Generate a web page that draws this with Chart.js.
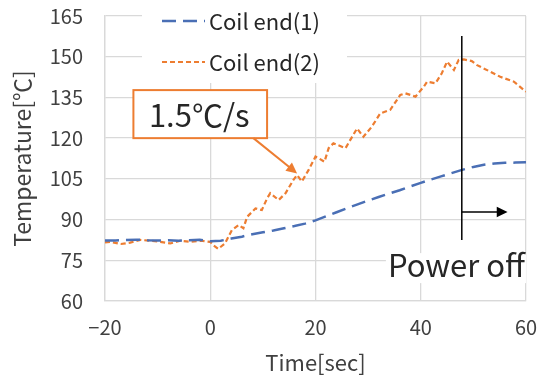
<!DOCTYPE html>
<html>
<head>
<meta charset="utf-8">
<script src="https://cdn.jsdelivr.net/npm/chart.js@4/dist/chart.umd.min.js"></script>
<style>
  html, body { margin: 0; padding: 0; background: #fff; }
  #wrap { width: 539px; height: 380px; }
</style>
</head>
<body>
<div id="wrap"><canvas id="chart"></canvas></div>
<script>
// Coil end temperatures around the power-off point
const coil1Time = [-20, -18, -16, -14, -12, -10, -8, -6, -4, -2, 0, 2, 4, 6, 8, 10, 12, 14, 16, 18, 20,
    22, 24, 26, 28, 30, 32, 34, 36, 38, 40, 42, 44, 46, 48, 50, 52, 54, 56, 58, 60];
const coil1Temp = [82.3, 82.3, 82.5, 82.6, 82.4, 82.3, 82.4, 82.2, 82.4, 82.6, 82.0, 82.2, 83.0, 83.7, 84.6, 85.3, 86.0, 86.8, 87.6, 88.5, 89.7,
    91.2, 92.7, 94.2, 95.6, 97.0, 98.3, 99.6, 100.8, 102.2, 103.5, 104.8, 106.0, 107.2, 108.4, 109.4, 110.2, 110.7, 110.9, 111.0, 111.1];

const coil2Time = [-20, -19, -17, -15.2, -13.3, -11.4, -9.5, -7.6, -5.7, -3.8, -1.9, 0, 0.6, 1.5, 2.8, 4.1, 5.4, 6.3, 7, 8.6, 9.8,
    10.8, 11.4, 13, 14.3, 15.8, 16.5, 17.4, 18.7, 20, 20.5, 21.7, 22.5, 23.4, 25.7, 27.9, 29.1, 30.7, 32.3, 34.2,
    36.1, 37.1, 39, 40.6, 41.2, 42.8, 44, 45, 46.3, 47.2, 48.2, 49.7, 50.7, 53.2, 55.1, 57.7, 60];
const coil2Temp = [81.6, 81.8, 81.0, 81.5, 82.5, 82.2, 81.8, 81.2, 82.2, 81.8, 82.2, 81.8, 80.5, 79.2, 81.2, 86.1, 88.0, 86.8, 91.0, 94.1, 93.5,
    97.8, 99.7, 97.2, 99.7, 104.6, 106.4, 104.0, 108.3, 113.2, 112.7, 111.3, 116.3, 118.1, 116.3, 123.6, 120.5, 124.2, 129.1, 130.4,
    135.9, 136.5, 135.3, 139.0, 140.8, 140.2, 143.9, 148.2, 145.1, 148.8, 149.0, 148.4, 146.9, 144.5, 142.6, 140.8, 137.1];

const seriesNames = ['Coil end(1)', 'Coil end(2)'];
const xTicks = [-20, 0, 20, 40, 60];
const yTicks = [60, 75, 90, 105, 120, 135, 150, 165];

// annotations
const rateLabel = '1.5℃/s';
const powerOffLabel = 'Power off';
const powerOffTime = 47.8;

const FONT = '"Noto Sans CJK JP", "Noto Sans", sans-serif';
const BLUE = '#4a6fb5';
const ORANGE = '#ed7d31';

function toPoints(xs, ys) {
    return xs.map((x, i) => ({ x: x, y: ys[i] }));
}

function arrowHead(ctx, x1, y1, x2, y2, size) {
    const a = Math.atan2(y2 - y1, x2 - x1);
    ctx.beginPath();
    ctx.moveTo(x2, y2);
    ctx.lineTo(x2 - size * Math.cos(a - 0.45), y2 - size * Math.sin(a - 0.45));
    ctx.lineTo(x2 - size * Math.cos(a + 0.45), y2 - size * Math.sin(a + 0.45));
    ctx.closePath();
    ctx.fill();
}

// legend drawn inside the plot, over a white patch that hides the grid
const insideLegend = {
    id: 'insideLegend',
    beforeDatasetsDraw(chart) {
        const ctx = chart.ctx;
        const ds = chart.data.datasets;
        ctx.save();
        ctx.fillStyle = '#fff';
        ctx.fillRect(142, 0, 205, 83);
        const rows = [21, 62];
        ds.forEach((d, i) => {
            ctx.strokeStyle = d.borderColor;
            ctx.lineWidth = d.borderWidth;
            ctx.setLineDash(d.borderDash);
            ctx.beginPath();
            ctx.moveTo(162, rows[i]);
            ctx.lineTo(205, rows[i]);
            ctx.stroke();
            ctx.setLineDash([]);
            ctx.fillStyle = '#262626';
            ctx.font = '22px ' + FONT;
            ctx.textAlign = 'left';
            ctx.textBaseline = 'middle';
            ctx.fillText(d.label, 209, rows[i] + 1);
        });
        ctx.restore();
    }
};

const notes = {
    id: 'notes',
    afterDatasetsDraw(chart) {
        const ctx = chart.ctx;
        const xs = chart.scales.x, ys = chart.scales.y;
        ctx.save();

        // rate callout
        const bx1 = xs.getPixelForValue(-14.6), bx2 = xs.getPixelForValue(10.8);
        const by1 = ys.getPixelForValue(137.7), by2 = ys.getPixelForValue(120);
        ctx.fillStyle = '#fff';
        ctx.fillRect(bx1, by1, bx2 - bx1, by2 - by1);
        ctx.strokeStyle = ORANGE;
        ctx.lineWidth = 2;
        ctx.strokeRect(bx1, by1, bx2 - bx1, by2 - by1);
        ctx.fillStyle = '#262626';
        ctx.font = '31px ' + FONT;
        ctx.textAlign = 'center';
        ctx.textBaseline = 'middle';
        ctx.fillText(rateLabel, (bx1 + bx2) / 2 - 1, (by1 + by2) / 2 + 1);

        const ax1 = xs.getPixelForValue(8.2), ay1 = ys.getPixelForValue(120);
        const ax2 = xs.getPixelForValue(16.5), ay2 = ys.getPixelForValue(107);
        ctx.strokeStyle = ORANGE;
        ctx.fillStyle = ORANGE;
        ctx.beginPath();
        ctx.moveTo(ax1, ay1);
        ctx.lineTo(ax2 - 6, ay2 - 5);
        ctx.stroke();
        arrowHead(ctx, ax1, ay1, ax2, ay2, 12);

        // power off marker
        const px = xs.getPixelForValue(powerOffTime);
        ctx.strokeStyle = '#000';
        ctx.fillStyle = '#000';
        ctx.lineWidth = 1.5;
        ctx.beginPath();
        ctx.moveTo(px, ys.getPixelForValue(157.6));
        ctx.lineTo(px, ys.getPixelForValue(82.5));
        ctx.stroke();
        const ay = ys.getPixelForValue(92.8);
        const ex = xs.getPixelForValue(56.5);
        ctx.beginPath();
        ctx.moveTo(px, ay);
        ctx.lineTo(ex - 8, ay);
        ctx.stroke();
        arrowHead(ctx, px, ay, ex, ay, 12);

        ctx.font = '31px ' + FONT;
        const tw = ctx.measureText(powerOffLabel).width;
        const tx = xs.getPixelForValue(59.8);
        const ty = ys.getPixelForValue(68.8);
        ctx.fillStyle = '#fff';
        ctx.fillRect(tx - tw - 2, ty - 24, tw + 3, 30);
        ctx.fillStyle = '#262626';
        ctx.textAlign = 'right';
        ctx.textBaseline = 'alphabetic';
        ctx.fillText(powerOffLabel, tx, ty);
        ctx.restore();
    }
};

new Chart(document.getElementById('chart'), {
    type: 'line',
    data: {
        datasets: [
            {
                label: seriesNames[0],
                data: toPoints(coil1Time, coil1Temp),
                borderColor: BLUE,
                borderWidth: 2.5,
                borderDash: [14, 7],
                pointRadius: 0,
                tension: 0
            },
            {
                label: seriesNames[1],
                data: toPoints(coil2Time, coil2Temp),
                borderColor: ORANGE,
                borderWidth: 2.2,
                borderDash: [5, 3],
                pointRadius: 0,
                tension: 0
            }
        ]
    },
    options: {
        responsive: true,
        maintainAspectRatio: false,
        animation: false,
        layout: { padding: 0 },
        plugins: {
            legend: { display: false },
            tooltip: { enabled: false }
        },
        scales: {
            x: {
                type: 'linear',
                min: -20,
                max: 60,
                afterBuildTicks: s => { s.ticks = xTicks.map(v => ({ value: v })); },
                afterFit: s => {
                    s.height = 79;
                    s.paddingLeft = 0;
                    s.paddingRight = 13;
                },
                grid: { color: '#d9d9d9', lineWidth: 1.3, drawTicks: false },
                border: { color: '#d9d9d9', width: 1.3 },
                ticks: {
                    padding: 14,
                    color: '#404040',
                    font: { family: FONT, size: 20 },
                    callback: v => (v < 0 ? '\u2212' + Math.abs(v) : v)
                },
                title: {
                    display: true,
                    text: 'Time[sec]',
                    color: '#404040',
                    font: { family: FONT, size: 22 },
                    padding: { top: 12 }
                }
            },
            y: {
                min: 60,
                max: 165,
                afterBuildTicks: s => { s.ticks = yTicks.map(v => ({ value: v })); },
                afterFit: s => {
                    s.width = 105;
                    s.paddingTop = 16;
                    s.paddingBottom = 0;
                },
                grid: { color: '#d9d9d9', lineWidth: 1.3, drawTicks: false },
                border: { color: '#d9d9d9', width: 1.3 },
                ticks: {
                    padding: 22,
                    color: '#404040',
                    font: { family: FONT, size: 20 }
                },
                title: {
                    display: true,
                    text: 'Temperature[℃]',
                    color: '#404040',
                    font: { family: FONT, size: 23 },
                    padding: { top: 8, bottom: 0 }
                }
            }
        }
    },
    plugins: [insideLegend, notes]
});
</script>
</body>
</html>
